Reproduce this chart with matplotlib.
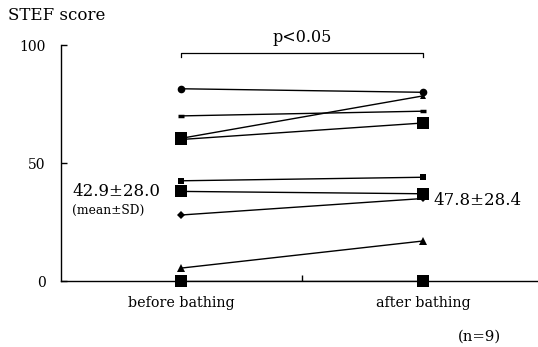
import matplotlib
matplotlib.use("Agg")
import matplotlib.pyplot as plt

categories = ["before bathing", "after bathing"]
before = [81.5, 70, 60.5, 60, 42.5, 38, 28, 5.5, 0]
after = [80, 72, 78.5, 67, 44, 37, 35, 17, 0]
markers = ["o", "_", "s", "s", "s", "s", "D", "^", "s"]
start_marker_sizes = [5.5, 5, 8, 8, 4.5, 8, 4.5, 5.5, 8]
end_marker_sizes = [5.5, 5, 4, 8, 4.5, 8, 4.5, 5.5, 8]
end_markers = ["o", "_", "^", "s", "s", "s", "D", "^", "s"]
yticks = [0, 50, 100]
mean_before = "42.9±28.0"
mean_after = "47.8±28.4"

plt.rcParams['font.family'] = ['DejaVu Serif']

fig = plt.figure(figsize=(5.38, 3.47), dpi=100)
ax = fig.add_axes([0.1134, 0.190, 0.885, 0.680])

x = [1, 2]
for b, a, m, em, s0, s1 in zip(before, after, markers, end_markers, start_marker_sizes, end_marker_sizes):
    ax.plot(x, [b, a], color="black", lw=1.0, zorder=2)
    mew = 2.5 if m == "_" else 0
    ax.plot([1], [b], marker=m, color="black", ms=s0, mew=mew, ls="none", zorder=3, clip_on=False)
    mew = 2.5 if em == "_" else 0
    ax.plot([2], [a], marker=em, color="black", ms=s1, mew=mew, ls="none", zorder=3, clip_on=False)

ax.set_xlim(0.504, 2.47)
ax.set_ylim(0, 100)
ax.set_yticks(yticks)
ax.set_xticks([1.5])
ax.set_xticklabels([""])
ax.tick_params(axis="both", direction="in", length=4, width=1, labelsize=10)
ax.tick_params(axis="y", pad=11)
for sp in ["top", "right"]:
    ax.spines[sp].set_visible(False)
for sp in ["left", "bottom"]:
    ax.spines[sp].set_linewidth(1.0)

for xi, lab in zip(x, categories):
    ax.text(xi, -6.5, lab, ha="center", va="top", fontsize=10.3, transform=ax.transData, clip_on=False)

ax.text(0.55, 38, mean_before, fontsize=12, ha="left", va="center")
ax.text(0.55, 30, "(mean±SD)", fontsize=8.8, ha="left", va="center")
ax.text(2.04, 34, mean_after, fontsize=12, ha="left", va="center")

# significance bracket
ax.plot([1, 1, 2, 2], [94.9, 96.6, 96.6, 94.9], color="black", lw=0.9, clip_on=False)
ax.text(1.5, 103.4, "p<0.05", ha="center", va="center", fontsize=11.5)

fig.text(8 / 538, 1 - 15 / 347, "STEF score", ha="left", va="center", fontsize=12)
fig.text(479 / 538, 1 - 337 / 347, "(n=9)", ha="center", va="center", fontsize=10.7)

fig.savefig("out.png", dpi=100)
